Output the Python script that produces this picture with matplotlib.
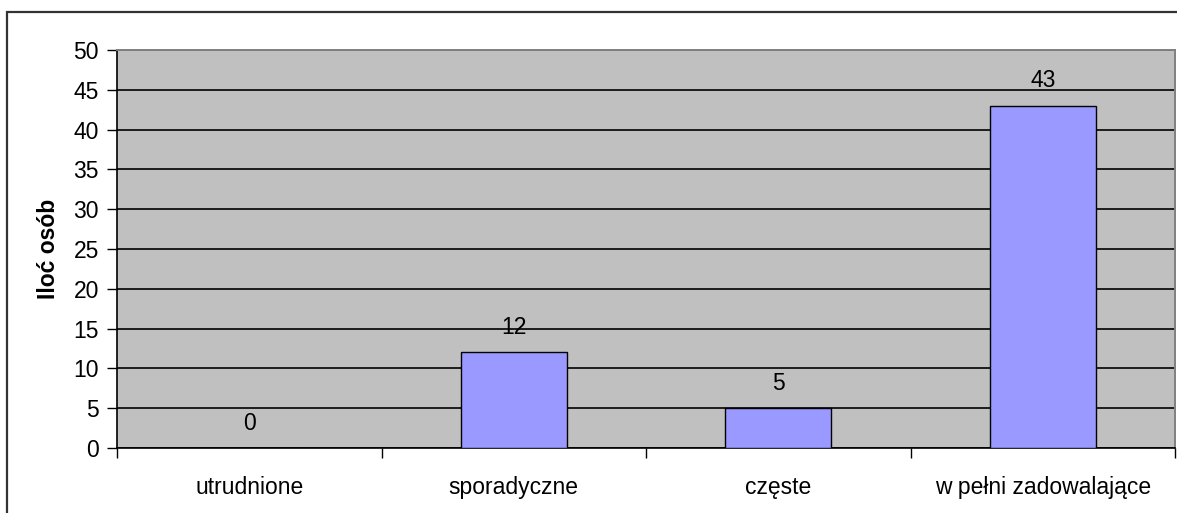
import matplotlib as mpl
mpl.use('Agg')
import numpy as np
import matplotlib.pyplot as plt
from matplotlib.patches import Rectangle

# data
categories = ['utrudnione', 'sporadyczne', 'częste', 'w pełni zadowalające']
values = [0, 12, 5, 43]
yticks = [0, 5, 10, 15, 20, 25, 30, 35, 40, 45, 50]

plt.rcParams['font.family'] = ['Liberation Sans', 'DejaVu Sans']

W, H = 1177, 513
fig = plt.figure(figsize=(W / 100, H / 100), dpi=100)
fig.patch.set_facecolor('white')

# outer chart frame (runs off the right/bottom edge in the original)
fig.patches.append(Rectangle((7 / W, -0.2), 2, 1.2 - 12 / H,
                             transform=fig.transFigure, fill=False,
                             edgecolor='#333333', lw=1.6))

ax = fig.add_axes([117 / W, 1 - 448 / H, (1175 - 117) / W, (448 - 50) / H])
ax.set_facecolor('#C0C0C0')

x = np.arange(len(categories))
ax.bar(x, values, width=0.4, color='#9999FF', edgecolor='black', lw=1, zorder=3)

for xi, v in zip(x, values):
    ax.annotate(str(v), (xi, v), xytext=(0, 18), textcoords='offset points',
                ha='center', va='center', fontsize=16.5, color='black')

ax.set_xlim(-0.5, len(categories) - 0.5)
ax.set_ylim(0, 50)
ax.set_yticks(yticks)
ax.tick_params(axis='y', direction='out', length=7, width=1, labelsize=16.5, pad=6)

ax.set_xticks(x)
ax.set_xticklabels(categories, fontsize=16.5)
ax.tick_params(axis='x', which='major', length=0, pad=20)
ax.set_xticks(np.arange(-0.5, len(categories)), minor=True)
ax.tick_params(axis='x', which='minor', direction='out', length=7, width=1)

ax.set_axisbelow(True)
ax.yaxis.grid(True, color='black', lw=1.2)

for s in ['left', 'bottom']:
    ax.spines[s].set_color('black')
    ax.spines[s].set_linewidth(1.2)
for s in ['top', 'right']:
    ax.spines[s].set_color('#808080')
    ax.spines[s].set_linewidth(1.4)

ax.set_ylabel('Iloć osób', fontsize=16.5, fontweight='bold', labelpad=10)

fig.savefig('out.png', dpi=100)
